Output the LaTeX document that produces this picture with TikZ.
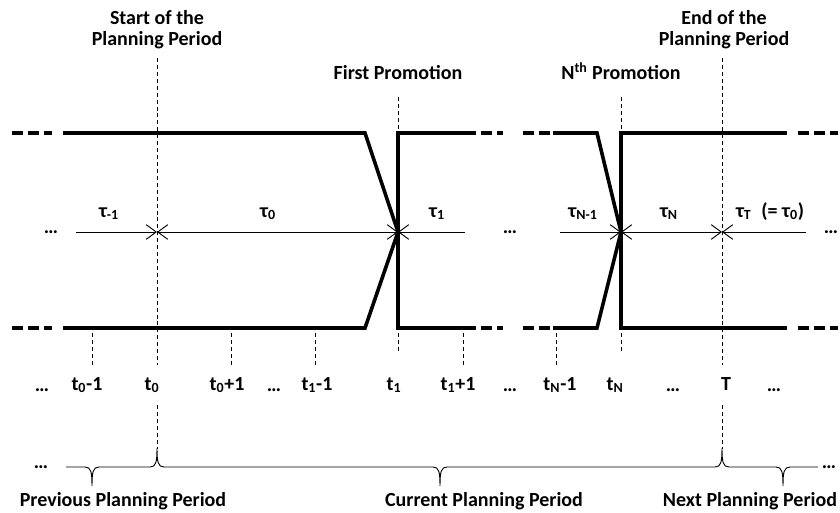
\documentclass[tikz,border=0pt]{standalone}
\usepackage{fontspec}
\setmainfont{Carlito}
\usetikzlibrary{arrows.meta}

\begin{document}
\begin{tikzpicture}[x=0.75pt,y=-0.75pt,
                    every node/.style={font=\bfseries\fontsize{15}{16}\selectfont,
                                       inner sep=0pt,align=center},
                    lbl/.style={anchor=base},
                    stock/.style={line width=2.7pt},
                    stockend/.style={line width=2.7pt,dash pattern=on 8.25pt off 3.75pt},
                    guide/.style={line width=0.7pt,dash pattern=on 3pt off 2.2pt},
                    span/.style={line width=0.7pt},
                    barb/.tip={Straight Barb[length=7.5pt,width=11pt,line width=0.7pt]}]
  \useasboundingbox (0,0) rectangle (840,512);

  % top labels
  \node[anchor=south] (start) at (157,49) {Start of the\\Planning Period};
  \node[lbl] (first) at (398,79) {First Promotion};
  \node[lbl] (nth) at (621,79) {N\textsuperscript{th} Promotion};
  \node[anchor=south] (end) at (724,49) {End of the\\Planning Period};

  % guide lines
  \draw[guide] (157,58) -- (157,365);
  \draw[guide] (722,58) -- (722,365);
  \draw[guide] (398,97) -- (398,352);
  \draw[guide] (621,97) -- (621,352);
  \foreach \x in {92,231,315,463,556}
    \draw[guide] (\x,333) -- (\x,365);
  \draw[guide] (157,405) -- (157,449);
  \draw[guide] (722,405) -- (722,449);

  % stock level
  \coordinate (m0) at (157,232);
  \coordinate (m1) at (398,232);
  \coordinate (mN) at (621,232);
  \coordinate (mT) at (722,232);
  \foreach \y in {133,328} {
    \draw[stockend] (12,\y) -- (52,\y);
    \draw[stock] (63,\y) -- (365,\y) -- (m1);
    \draw[stockend] (465,\y) -- (503,\y);
    \draw[stockend] (523,\y) -- (553,\y);
    \draw[stock] (553,\y) -- (597,\y) -- (mN);
    \draw[stockend] (798,\y) -- (838,\y);
  }
  \draw[stock] (465,133) -- (398,133) -- (398,328) -- (465,328);
  \draw[stock] (787,133) -- (621,133) -- (621,328) -- (787,328);

  % cycle lengths
  \draw[span,-barb] (76,232) -- (m0);
  \draw[span,barb-barb] (m0) -- (m1);
  \draw[span,barb-] (m1) -- (465,232);
  \draw[span,-barb] (560,232) -- (mN);
  \draw[span,barb-barb] (mN) -- (mT);
  \draw[span,barb-] (mT) -- (806,232);
  \node[lbl] (dl) at (51,233) {…};
  \node[lbl] (tau-1) at (109,217) {τ\textsubscript{-1}};
  \node[lbl] (tau0) at (268,217) {τ\textsubscript{0}};
  \node[lbl] (tau1) at (437,217) {τ\textsubscript{1}};
  \node[lbl] (dm) at (510,233) {…};
  \node[lbl] (tauN-1) at (583,217) {τ\textsubscript{N-1}};
  \node[lbl] (tauN) at (669,217) {τ\textsubscript{N}};
  \node[lbl] (tauT) at (770,217) {τ\textsubscript{T}\enspace(= τ\textsubscript{0})};
  \node[lbl] (dr) at (831,233) {…};

  % time points
  \node[lbl] (d1) at (42,391) {…};
  \node[lbl] (t0m) at (87,390) {t\textsubscript{0}-1};
  \node[lbl] (t0) at (152,390) {t\textsubscript{0}};
  \node[lbl] (t0p) at (227,390) {t\textsubscript{0}+1};
  \node[lbl] (d2) at (274,391) {…};
  \node[lbl] (t1m) at (317,390) {t\textsubscript{1}-1};
  \node[lbl] (t1) at (394,390) {t\textsubscript{1}};
  \node[lbl] (t1p) at (458,390) {t\textsubscript{1}+1};
  \node[lbl] (d3) at (510,391) {…};
  \node[lbl] (tNm) at (560,390) {t\textsubscript{N}-1};
  \node[lbl] (tN) at (615,390) {t\textsubscript{N}};
  \node[lbl] (d4) at (673,391) {…};
  \node[lbl] (T) at (726,390) {T};
  \node[lbl] (d5) at (774,391) {…};

  % planning periods
  \draw[span] (66,467)
    \foreach \x/\d in {92/1,157/-1,440/1,722/-1,783/1} {
      -- ({\x-7},467) .. controls ({\x-1},467) and (\x,{467+5*\d}) .. (\x,{467+19*\d})
      .. controls (\x,{467+5*\d}) and ({\x+1},467) .. ({\x+7},467) }
    -- (818,467);
  \node[lbl] (db1) at (41,468) {…};
  \node[lbl] (db2) at (829,468) {…};
  \node[lbl] (prev) at (123,506) {Previous Planning Period};
  \node[lbl] (cur) at (484,506) {Current Planning Period};
  \node[lbl] (next) at (750,506) {Next Planning Period};
\end{tikzpicture}
\end{document}
